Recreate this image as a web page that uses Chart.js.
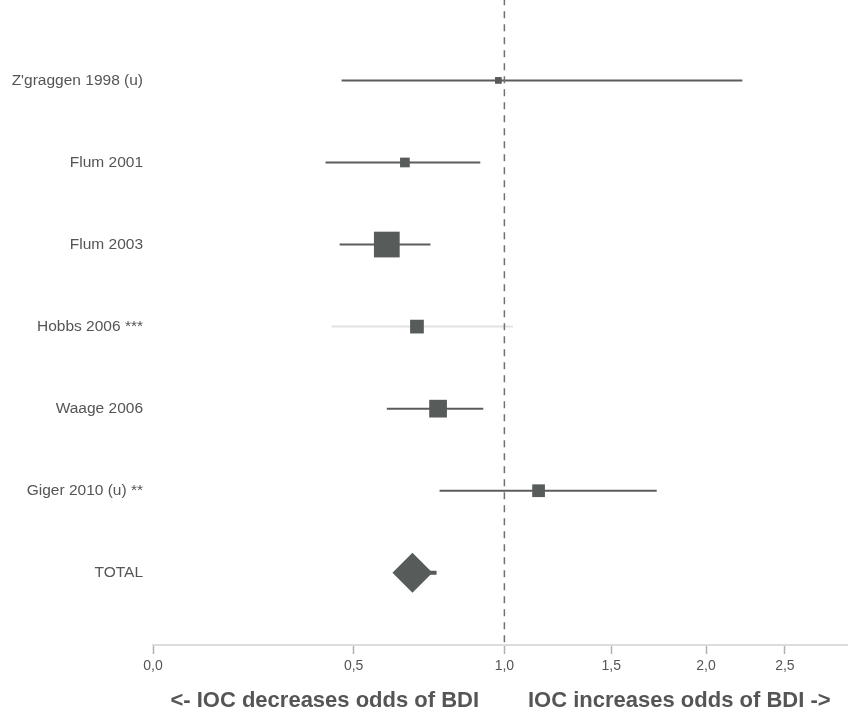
<!DOCTYPE html>
<html>
<head>
<meta charset="utf-8">
<script src="https://cdn.jsdelivr.net/npm/chart.js@4.4.1/dist/chart.umd.min.js"></script>
<style>
    html, body { margin: 0; padding: 0; background: #fff; }
    #forest { display: block; }
</style>
</head>
<body>
<canvas id="forest" width="848" height="712"></canvas>
<script>
// Study rows (top to bottom)
const studies = ["Z'graggen 1998 (u)", 'Flum 2001', 'Flum 2003', 'Hobbs 2006 ***', 'Waage 2006', 'Giger 2010 (u) **'];
const oddsRatios = [0.98, 0.67, 0.61, 0.71, 0.78, 1.16];
const ciLower = [0.47, 0.43, 0.465, 0.445, 0.61, 0.785];
const ciUpper = [2.23, 0.92, 0.755, 1.04, 0.93, 1.74];
const weights = [2.7, 6.0, 46.5, 12.6, 21.5, 10.7];

// Pooled estimate
const totalLabel = 'TOTAL';
const totalOR = 0.695;
const totalLower = 0.64;
const totalUpper = 0.775;

// Axis ticks, the original axis has uneven spacing between them
const tickValues = [0, 0.5, 1, 1.5, 2, 2.5];
const tickLabels = ['0,0', '0,5', '1,0', '1,5', '2,0', '2,5'];
const tickSpacing = [0, 201, 352, 459, 554, 633];
const axisMaxValue = 2.9;

// map an odds ratio onto the uneven axis
function warp(v) {
    let i = 0;
    while (i < tickValues.length - 2 && v > tickValues[i + 1]) i++;
    const t = (v - tickValues[i]) / (tickValues[i + 1] - tickValues[i]);
    return tickSpacing[i] + t * (tickSpacing[i + 1] - tickSpacing[i]);
}

const rowLabels = studies.concat([totalLabel]);
const markColor = '#575c5a';
const lineColor = '#5c5c5c';

const datasets = [];

// reference line at OR = 1
datasets.push({
    label: 'No effect',
    data: [{ x: warp(1), y: -1 }, { x: warp(1), y: rowLabels.length - 0.05 }],
    showLine: true,
    borderColor: '#707070',
    borderWidth: 1.5,
    borderDash: [7, 6],
    pointRadius: 0,
    order: 3
});

studies.forEach((name, i) => {
    datasets.push({
        label: name + ' CI',
        data: [{ x: warp(ciLower[i]), y: i }, { x: warp(ciUpper[i]), y: i }],
        showLine: true,
        borderColor: name.startsWith('Hobbs') ? '#e2e2e2' : lineColor,
        borderWidth: 2,
        pointRadius: 0,
        order: 4
    });
});

// squares sized by study weight
datasets.push({
    label: 'Odds ratio',
    data: studies.map((s, i) => ({ x: warp(oddsRatios[i]), y: i })),
    pointStyle: 'rect',
    pointRadius: weights.map(w => 3.67 * Math.sqrt(w) * Math.SQRT1_2 + 0.5),
    backgroundColor: markColor,
    borderColor: markColor,
    borderWidth: 0,
    order: 1
});

const totalRow = studies.length;
datasets.push({
    label: 'Total CI',
    data: [{ x: warp(totalLower), y: totalRow }, { x: warp(totalUpper), y: totalRow }],
    showLine: true,
    borderColor: markColor,
    borderWidth: 4,
    pointRadius: 0,
    order: 2
});
datasets.push({
    label: 'Total',
    data: [{ x: warp(totalOR), y: totalRow }],
    pointStyle: 'rectRot',
    pointRadius: 20,
    backgroundColor: markColor,
    borderColor: markColor,
    borderWidth: 0,
    order: 1
});

// drop the label overhang padding so the plot fills the canvas
function noPadding(scale) {
    scale.paddingTop = 0;
    scale.paddingBottom = 0;
    scale.paddingLeft = 0;
    scale.paddingRight = 0;
}

const ctx = document.getElementById('forest').getContext('2d');
const forestChart = new Chart(ctx, {
    type: 'scatter',
    data: { datasets: datasets },
    options: {
        responsive: false,
        animation: false,
        layout: { padding: 0, autoPadding: false },
        plugins: {
            legend: { display: false },
            tooltip: { enabled: false }
        },
        elements: { line: { tension: 0 } },
        scales: {
            x: {
                type: 'linear',
                min: 0,
                max: warp(axisMaxValue),
                afterBuildTicks: (scale) => {
                    scale.ticks = tickValues.map(v => ({ value: warp(v) }));
                },
                afterFit: (scale) => { scale.height = 67; noPadding(scale); },
                grid: {
                    drawOnChartArea: false,
                    drawTicks: true,
                    tickLength: 9,
                    tickWidth: 1.5,
                    color: '#b0b0b0'
                },
                border: { color: '#dcdcdc', width: 2 },
                ticks: {
                    autoSkip: false,
                    maxRotation: 0,
                    padding: 4,
                    color: '#555',
                    font: { family: 'Liberation Sans, Arial, sans-serif', size: 14 },
                    callback: (val, idx) => tickLabels[idx]
                },
                title: {
                    display: true,
                    text: '<- IOC decreases odds of BDI        IOC increases odds of BDI ->',
                    color: '#555',
                    font: { family: 'Liberation Sans, Arial, sans-serif', size: 22, weight: 'bold', lineHeight: 1 },
                    padding: { top: 0, bottom: 0 }
                }
            },
            y: {
                type: 'linear',
                reverse: true,
                min: -0.98,
                max: 6.88,
                afterBuildTicks: (scale) => {
                    scale.ticks = rowLabels.map((r, i) => ({ value: i }));
                },
                afterFit: (scale) => { scale.width = 153; noPadding(scale); },
                grid: { display: false, drawTicks: false },
                border: { display: false },
                ticks: {
                    padding: 10,
                    color: '#555',
                    font: { family: 'Liberation Sans, Arial, sans-serif', size: 15.5 },
                    callback: (val, idx) => rowLabels[idx]
                }
            }
        }
    }
});
</script>
</body>
</html>
